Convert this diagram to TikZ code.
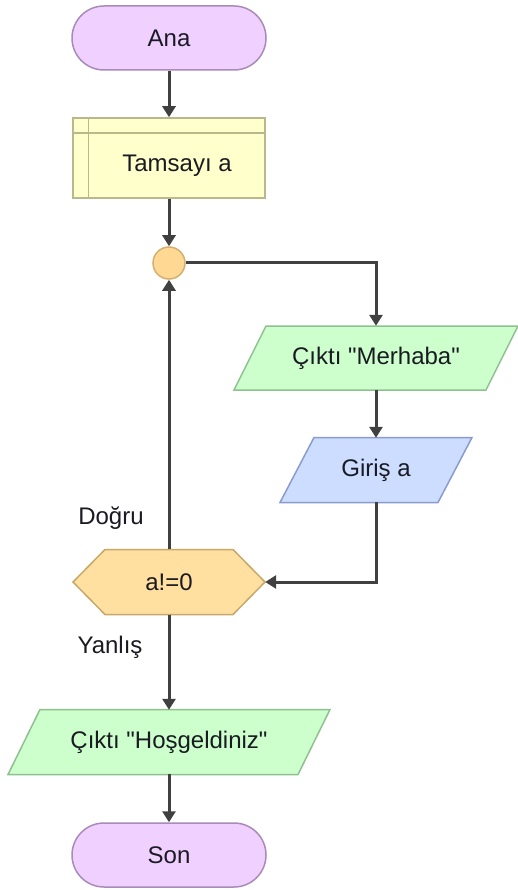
\documentclass[tikz,border=0pt]{standalone}
\usepackage{fontspec}
\setmainfont{Liberation Sans}
\usetikzlibrary{arrows.meta,calc,backgrounds}

\definecolor{termfill}{HTML}{F0D0FF}
\definecolor{termdraw}{HTML}{A98BB8}
\definecolor{declfill}{HTML}{FFFFCC}
\definecolor{decldraw}{HTML}{B8B88C}
\definecolor{joinfill}{HTML}{FFD994}
\definecolor{joindraw}{HTML}{D4B070}
\definecolor{outfill}{HTML}{CCFFCC}
\definecolor{outdraw}{HTML}{8FC08F}
\definecolor{infill}{HTML}{CCDDFF}
\definecolor{indraw}{HTML}{8A9CCC}
\definecolor{decfill}{HTML}{FFE0A0}
\definecolor{decdraw}{HTML}{C8A868}
\definecolor{linec}{HTML}{404040}
\definecolor{textc}{HTML}{1A1A22}

% parallelogram outline drawn behind a named node
% #1 style, #2 node, #3 half width, #4 half height, #5 half slant
\newcommand\slantbox[5]{%
  \begin{scope}[on background layer]
    \draw[#1] ($(#2.center)+(-#3+#5,-#4)$) -- ($(#2.center)+(#3+#5,-#4)$)
      -- ($(#2.center)+(#3-#5,#4)$) -- ($(#2.center)+(-#3-#5,#4)$) -- cycle;
  \end{scope}}
% hexagon outline drawn behind a named node
% #1 style, #2 node, #3 half width, #4 half height, #5 corner inset
\newcommand\hexbox[5]{%
  \begin{scope}[on background layer]
    \draw[#1] ($(#2.center)+(-#3,0)$) -- ($(#2.center)+(-#3+#5,-#4)$)
      -- ($(#2.center)+(#3-#5,-#4)$) -- ($(#2.center)+(#3,0)$)
      -- ($(#2.center)+(#3-#5,#4)$) -- ($(#2.center)+(-#3+#5,#4)$) -- cycle;
  \end{scope}}

\tikzset{
  txt/.style={text=textc, inner sep=0pt},
  term/.style={txt, draw=termdraw, fill=termfill, line width=1.5pt,
    rounded corners=32pt, minimum width=194pt, minimum height=64pt},
  decl/.style={draw=decldraw, fill=declfill, line width=1.5pt,
    minimum width=192pt, minimum height=80pt, inner sep=0pt},
  declline/.style={draw=decldraw, line width=1.5pt},
  joint/.style={circle, draw=joindraw, fill=joinfill, line width=1.5pt,
    minimum size=32pt, inner sep=0pt},
  slot/.style={txt, minimum height=64pt},
  outshape/.style={draw=outdraw, fill=outfill, line width=1.5pt},
  inshape/.style={draw=indraw, fill=infill, line width=1.5pt},
  decshape/.style={draw=decdraw, fill=decfill, line width=1.5pt},
  flow/.style={draw=linec, line width=3pt,
    -{Triangle[width=13pt,length=11pt]}},
  branch/.style={txt}
}

\begin{document}
\begin{tikzpicture}[x=1pt,y=-1pt,font=\fontsize{24}{28}\selectfont]
\useasboundingbox (0,0) rectangle (517,890);

% start
\node[term] (ana) at (169,38) {Ana};

% declaration block
\node[decl] (decl) at (169,158) {};
\draw[declline] ($(decl.north west)+(16,0)$) -- ($(decl.south west)+(16,0)$);
\draw[declline] ($(decl.north west)+(0,16)$) -- ($(decl.north east)+(0,16)$);
\node[txt] (declt) at ($(decl.center)+(8,8)$) {Tamsayı a};

% loop junction
\node[joint] (jn) at (169,263) {};

% output "Merhaba"
\node[slot, minimum width=220pt] (out1) at (376,358) {Çıktı \textquotedbl Merhaba\textquotedbl};
\slantbox{outshape}{out1}{126}{32}{16}

% input a
\node[slot, minimum width=130pt] (in1) at (376,470) {Giriş a};
\slantbox{inshape}{in1}{79}{32.5}{17}

% condition
\node[txt, minimum width=192pt, minimum height=65pt] (cond) at (169,582) {a!=0};
\hexbox{decshape}{cond}{96}{32.5}{32}

% output "Hosgeldiniz"
\node[slot, minimum width=250pt] (out2) at (169,742) {Çıktı \textquotedbl Hoşgeldiniz\textquotedbl};
\slantbox{outshape}{out2}{145}{32.5}{16}

% end
\node[term] (son) at (169,855) {Son};

% branch labels
\node[branch] (yes) at (111,518) {Doğru};
\node[branch] (no) at (110,647) {Yanlış};

% connectors
\draw[flow] (ana) -- (decl);
\draw[flow] (decl) -- (jn);
\draw[flow] (jn.east) -| (out1.north);
\draw[flow] (out1) -- (in1);
\draw[flow] (in1.south) |- (cond.east);
\draw[flow] (cond.north) -- (jn.south);
\draw[flow] (cond.south) -- (out2.north);
\draw[flow] (out2) -- (son);
\end{tikzpicture}
\end{document}
